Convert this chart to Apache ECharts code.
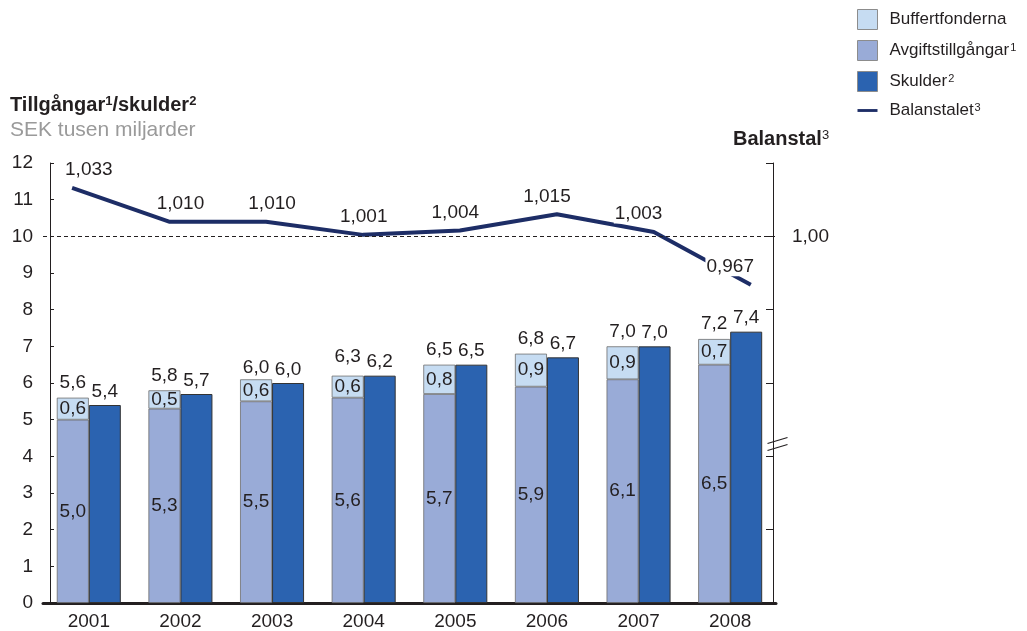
<!DOCTYPE html>
<html>
<head>
<meta charset="utf-8">
<script src="https://cdn.jsdelivr.net/npm/echarts@6/dist/echarts.min.js"></script>
<style>
  html, body { margin: 0; padding: 0; background: #ffffff; }
  #chart { width: 1027px; height: 631px; }
</style>
</head>
<body>
<div id="chart"></div>
<script>
// Pensionssystemets tillgångar, skulder och balanstal 2001–2008
const years = ['2001', '2002', '2003', '2004', '2005', '2006', '2007', '2008'];
const avgiftstillgangar = [5.0, 5.3, 5.5, 5.6, 5.7, 5.9, 6.1, 6.5];
const buffertfonderna = [0.6, 0.5, 0.6, 0.6, 0.8, 0.9, 0.9, 0.7];
const tillgangarTotalt = [5.6, 5.8, 6.0, 6.3, 6.5, 6.8, 7.0, 7.2];
const skulder = [5.4, 5.7, 6.0, 6.2, 6.5, 6.7, 7.0, 7.4];
const balanstal = [1.033, 1.010, 1.010, 1.001, 1.004, 1.015, 1.003, 0.967];

const FONT = '"Liberation Sans", Arial, Helvetica, sans-serif';
const TEXT = '#231f20';
const C_BUFFERT = '#c6dcf2';
const C_AVGIFT = '#99abd7';
const C_SKULDER = '#2b63b0';
const C_LINE = '#1d2d66';

const dec1 = v => v.toFixed(1).replace('.', ',');
const dec3 = v => v.toFixed(3).replace('.', ',');
const sup = { 'Avgiftstillgångar': '1', 'Skulder': '2', 'Balanstalet': '3' };

const chart = echarts.init(document.getElementById('chart'), null, { renderer: 'canvas' });

const valueLabel = {
  show: true,
  fontFamily: FONT,
  fontSize: 19,
  color: TEXT,
  opacity: 1
};

// invisible anchor points that only carry a text label
const labelAnchor = {
  symbol: 'rect',
  symbolSize: 1,
  itemStyle: { color: '#ffffff', opacity: 0 },
  emphasis: { disabled: true },
  silent: true
};

chart.setOption({
  animation: false,
  backgroundColor: '#ffffff',
  textStyle: { fontFamily: FONT, color: TEXT },
  grid: { left: 43, right: 251, top: 163, bottom: 27 },
  legend: {
    data: [
      { name: 'Buffertfonderna', icon: 'rect' },
      { name: 'Avgiftstillgångar', icon: 'rect' },
      { name: 'Skulder', icon: 'rect' },
      { name: 'Balanstalet', icon: 'path://M0,0H28V4H0Z', itemStyle: { color: C_LINE, borderWidth: 0 } }
    ],
    orient: 'vertical',
    left: 852,
    top: 4,
    itemWidth: 20,
    itemHeight: 20,
    itemGap: 10,
    selectedMode: false,
    itemStyle: { borderColor: '#8c8c8c', borderWidth: 1 },
    formatter: name => '{n|' + name + '}' + (sup[name] ? '{s|' + sup[name] + '}' : ''),
    textStyle: {
      fontFamily: FONT,
      color: TEXT,
      fontSize: 17,
      rich: {
        n: { fontFamily: FONT, fontSize: 17, color: TEXT, padding: [0, 0, 0, 7] },
        s: { fontFamily: FONT, fontSize: 11, color: TEXT, verticalAlign: 'top', padding: [0, 0, 0, 1] }
      }
    }
  },
  xAxis: [
    {
      type: 'category',
      data: years,
      axisLine: { show: true, lineStyle: { color: TEXT, width: 3 } },
      axisTick: { show: false },
      axisLabel: { fontFamily: FONT, fontSize: 19, color: TEXT, margin: 9 },
      splitLine: { show: false }
    },
    {
      // continuous year scale used by the balance-ratio line
      type: 'value',
      min: 2000.7,
      max: 2008.26,
      show: false,
      position: 'top'
    }
  ],
  yAxis: [
    {
      type: 'value',
      min: 0,
      max: 12,
      interval: 1,
      offset: -7,
      axisLine: { show: true, lineStyle: { color: TEXT, width: 1 } },
      axisTick: { show: true, inside: true, length: 4, lineStyle: { color: TEXT } },
      axisLabel: { fontFamily: FONT, fontSize: 19, color: TEXT, margin: 17 },
      splitLine: { show: false }
    },
    {
      type: 'value',
      position: 'right',
      min: 0.75,
      max: 1.05,
      interval: 0.05,
      offset: -3,
      axisLine: { show: true, lineStyle: { color: TEXT, width: 1 } },
      axisTick: { show: true, inside: true, length: 7, lineStyle: { color: TEXT } },
      axisLabel: {
        fontFamily: FONT, fontSize: 19, color: TEXT, margin: 19,
        formatter: v => (Math.abs(v - 1) < 1e-6 ? '1,00' : '')
      },
      splitLine: { show: false }
    }
  ],
  series: [
    {
      name: 'Avgiftstillgångar',
      type: 'bar',
      stack: 'tillgangar',
      barWidth: 32,
      barGap: '0%',
      data: avgiftstillgangar,
      itemStyle: { color: C_AVGIFT, borderColor: '#6d6d6d', borderWidth: 0.8 },
      label: Object.assign({}, valueLabel, { position: 'inside', formatter: p => dec1(p.value) }),
      z: 2
    },
    {
      name: 'Buffertfonderna',
      type: 'bar',
      stack: 'tillgangar',
      barWidth: 32,
      barGap: '0%',
      data: buffertfonderna,
      itemStyle: { color: C_BUFFERT, borderColor: '#6d6d6d', borderWidth: 0.8 },
      label: Object.assign({}, valueLabel, { position: 'inside', formatter: p => dec1(p.value) }),
      z: 2
    },
    {
      name: 'Skulder',
      type: 'bar',
      barWidth: 32,
      barGap: '0%',
      data: skulder,
      itemStyle: { color: C_SKULDER, borderColor: '#333333', borderWidth: 1 },
      label: Object.assign({}, valueLabel, { position: 'top', distance: 4, formatter: p => dec1(p.value) }),
      z: 2
    },
    Object.assign({
      // total assets, written above the stacked column
      name: 'Tillgångar totalt',
      type: 'scatter',
      data: tillgangarTotalt,
      label: Object.assign({}, valueLabel, { position: 'top', distance: 5, offset: [-16, 0], formatter: p => dec1(p.value) }),
      z: 4
    }, labelAnchor),
    {
      name: 'Balanstalet',
      type: 'line',
      xAxisIndex: 1,
      yAxisIndex: 1,
      data: years.map((y, i) => [Number(y), balanstal[i]]),
      symbol: 'none',
      lineStyle: { color: C_LINE, width: 4 },
      itemStyle: { color: C_LINE },
      markLine: {
        silent: true,
        symbol: 'none',
        label: { show: false },
        lineStyle: { type: [4, 3], color: TEXT, width: 1 },
        data: [{ yAxis: 1 }]
      },
      z: 3
    },
    Object.assign({
      // balance-ratio values, written at each year's column
      name: 'Balanstal etiketter',
      type: 'scatter',
      yAxisIndex: 1,
      data: balanstal,
      label: Object.assign({}, valueLabel, {
        position: 'top', distance: 8, formatter: p => dec3(p.value),
        backgroundColor: '#ffffff', padding: [0, 1]
      }),
      z: 5
    }, labelAnchor)
  ],
  graphic: [
    {
      type: 'text',
      left: 10,
      top: 95,
      z: 100,
      style: {
        text: '{b|Tillgångar}{s|1}{b|/skulder}{s|2}',
        rich: {
          b: { fontFamily: FONT, fontSize: 20, fontWeight: 'bold', fill: TEXT },
          s: { fontFamily: FONT, fontSize: 13, fontWeight: 'bold', fill: TEXT, verticalAlign: 'top' }
        }
      }
    },
    {
      type: 'text',
      left: 10,
      top: 120,
      z: 100,
      style: { text: 'SEK tusen miljarder', fontFamily: FONT, fontSize: 21, fill: '#9a9a9a' }
    },
    {
      type: 'text',
      left: 733,
      top: 129,
      z: 100,
      style: {
        text: '{b|Balanstal}{s|3}',
        rich: {
          b: { fontFamily: FONT, fontSize: 20, fontWeight: 'bold', fill: TEXT },
          s: { fontFamily: FONT, fontSize: 13, fill: TEXT, verticalAlign: 'top' }
        }
      }
    },
    {
      // axis break on the balance-ratio scale
      type: 'group',
      left: 765,
      top: 435,
      z: 100,
      children: [
        { type: 'polygon', shape: { points: [[0, 7], [20, 1], [20, 8], [0, 14]] }, style: { fill: '#ffffff' } },
        { type: 'line', shape: { x1: 0, y1: 7, x2: 20, y2: 1 }, style: { stroke: TEXT, lineWidth: 1.2 } },
        { type: 'line', shape: { x1: 0, y1: 14, x2: 20, y2: 8 }, style: { stroke: TEXT, lineWidth: 1.2 } }
      ]
    }
  ]
});
</script>
</body>
</html>
